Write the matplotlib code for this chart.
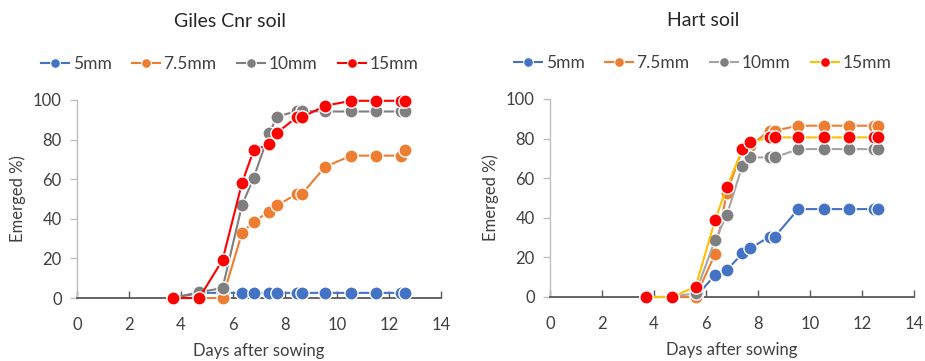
import matplotlib
matplotlib.use("Agg")
import matplotlib.pyplot as plt

plt.rcParams['font.family'] = ['Lato', 'DejaVu Sans']

# Days after sowing at each count
days = [3.7, 4.7, 5.6, 6.35, 6.8, 7.4, 7.7, 8.45, 8.65, 9.55, 10.55, 11.5, 12.45, 12.6]

labels = ["5mm", "7.5mm", "10mm", "15mm"]

# Giles Cnr soil, emergence (%)
giles_5 = [0, 2.6, 2.6, 2.6, 2.6, 2.6, 2.6, 2.6, 2.6, 2.6, 2.6, 2.6, 2.6, 2.6]
giles_75 = [0, 0, 0, 33, 38.6, 43.6, 46.8, 52.5, 52.5, 66.3, 71.9, 71.9, 71.9, 74.7]
giles_10 = [0, 3.0, 5.0, 47, 60.8, 83.5, 91.6, 94.4, 94.4, 94.2, 94.2, 94.2, 94.2, 94.2]
giles_15 = [0, 0, 19.2, 58.2, 74.7, 77.6, 83.5, 91.3, 91.3, 97.1, 99.6, 99.6, 99.6, 99.6]

# Hart soil, emergence (%)
hart_5 = [0, 0, 0, 11.1, 13.6, 22, 24.6, 30.5, 30.5, 44.4, 44.4, 44.4, 44.4, 44.4]
hart_75 = [0, 0, 0, 21.7, 52.7, 74.5, 76.5, 84, 84, 86.5, 86.5, 86.5, 86.5, 86.5]
hart_10 = [0, 0, 2.0, 28.8, 41.4, 66.3, 70.5, 70.5, 70.5, 74.7, 74.7, 74.7, 74.7, 74.7]
hart_15 = [0, 0, 5.2, 38.9, 55.4, 74.6, 78.1, 80.6, 80.6, 80.6, 80.6, 80.6, 80.6, 80.6]

blue, orange, gray, dgray, gold, red = "#4472C4", "#ED7D31", "#A5A5A5", "#7F7F7F", "#FFC000", "#FF0000"

fig = plt.figure(figsize=(9.25, 3.61), dpi=100)
ax1 = fig.add_axes([0.0832, 0.1745, 0.3935, 0.5485])
ax2 = fig.add_axes([0.5946, 0.1773, 0.3935, 0.5485])

panels = [
    (ax1, "Giles Cnr soil",
     [(giles_5, blue, blue), (giles_75, orange, orange), (giles_10, dgray, dgray), (giles_15, red, red)]),
    (ax2, "Hart soil",
     [(hart_5, blue, blue), (hart_75, orange, orange), (hart_10, gray, dgray), (hart_15, gold, red)]),
]

for ax, title, series in panels:
    handles = []
    for (vals, lc, mc), lab in zip(series, labels):
        h, = ax.plot(days, vals, color=lc, lw=1.5, marker='o', ms=9.5,
                     markerfacecolor=mc, markeredgecolor='white', markeredgewidth=1.0,
                     clip_on=False, label=lab, zorder=3)
        handles.append(h)
    ax.set_xlim(0, 14)
    ax.set_ylim(0, 100)
    ax.set_xticks(range(0, 15, 2))
    ax.set_yticks(range(0, 101, 20))
    for s in ("top", "right"):
        ax.spines[s].set_visible(False)
    ax.spines["bottom"].set_color("#595959")
    ax.spines["bottom"].set_linewidth(1.3)
    ax.spines["left"].set_color("#bfbfbf")
    ax.spines["left"].set_linewidth(1.0)
    ax.tick_params(axis='x', direction='in', length=5, width=1.0, color="#595959",
                   labelsize=12, labelcolor="#404040", pad=14)
    ax.tick_params(axis='y', direction='out', length=5, width=1.0, color="#bfbfbf",
                   labelsize=12, labelcolor="#404040", pad=6)
    ax.set_xlabel("Days after sowing", fontsize=12, color="#404040", labelpad=7)
    ax.set_ylabel("Emerged %)", fontsize=12, color="#404040", labelpad=5)
    ax.text(0.42, 1.0 + 78 / 198, title, transform=ax.transAxes, ha='center', va='center',
            fontsize=14, color="#262626")
    leg_h = [plt.Line2D([], [], color=h.get_color(), lw=1.5, marker='o', ms=7,
                        markerfacecolor=h.get_markerfacecolor(), markeredgecolor='white',
                        markeredgewidth=0.8) for h in handles]
    ax.legend(leg_h, labels, loc='center', bbox_to_anchor=(0.42, 1.0 + 36 / 198), ncol=4,
              frameon=False, fontsize=12.5, handlelength=1.6, handletextpad=0.2,
              columnspacing=1.2, labelcolor="#404040")

fig.savefig("out.png", dpi=100)
